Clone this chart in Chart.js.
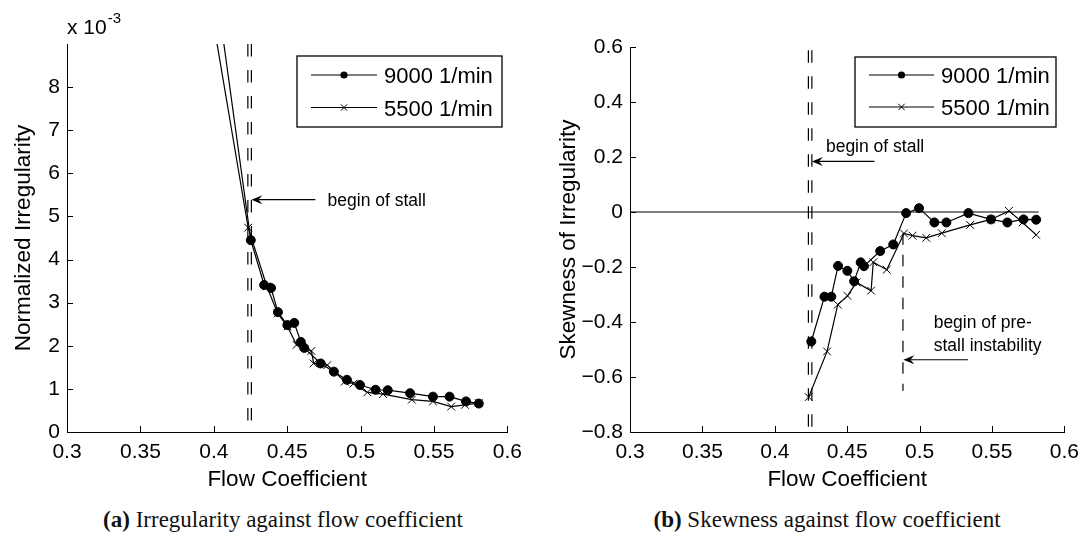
<!DOCTYPE html>
<html>
<head>
<meta charset="utf-8">
<script src="https://cdn.jsdelivr.net/npm/chart.js@4.4.1/dist/chart.umd.min.js"></script>
<style>
  body { margin: 0; background: #fff; }
  #wrap { position: relative; width: 1087px; height: 536px; background: #fff; overflow: hidden; }
  canvas { position: absolute; top: 0; }
  #c1 { left: 0; }
  #c2 { left: 530px; }
  .cap { position: absolute; top: 506px; width: 540px; text-align: center;
         font-family: "Liberation Serif", "Times New Roman", serif; font-size: 23px; line-height: 28px; color: #111; }
</style>
</head>
<body>
<div id="wrap">
  <canvas id="c1" width="530" height="500"></canvas>
  <canvas id="c2" width="557" height="500"></canvas>
  <div class="cap" style="left:13px"><b>(a)</b> Irregularity against flow coefficient</div>
  <div class="cap" style="left:557px"><b>(b)</b> Skewness against flow coefficient</div>
</div>
<script>
// ---- values ----
// flow coefficient of the operating points
const flow9000 = [0.4252, 0.4343, 0.4390, 0.4437, 0.4501, 0.4548, 0.4593, 0.4616, 0.4728, 0.4818,
                  0.4907, 0.4996, 0.5102, 0.5185, 0.5337, 0.5493, 0.5606, 0.5718, 0.5805];
const flow5500 = [0.4234, 0.4361, 0.4435, 0.4502, 0.4564, 0.4665, 0.4680, 0.4773, 0.4892, 0.4951,
                  0.5046, 0.5153, 0.5349, 0.5493, 0.5617, 0.5711, 0.5805];

// normalized irregularity (x 10^-3)
const irr9000 = [4.45, 3.41, 3.34, 2.78, 2.48, 2.53, 2.09, 1.95, 1.59, 1.40,
                 1.21, 1.09, 0.98, 0.97, 0.90, 0.82, 0.82, 0.71, 0.66];
const irr5500 = [4.74, 3.38, 2.75, 2.45, 2.02, 1.88, 1.59, 1.55, 1.17, 1.12,
                 0.92, 0.88, 0.75, 0.71, 0.59, 0.63, 0.67];
// the lowest flow point lies above the 9e-3 axis limit, only its line shows
const lowFlow = [0.40, 0.40];
const irrLow = [10.7, 9.45];   // 9000, 5500

// skewness of irregularity
const skew9000 = [-0.471, -0.308, -0.308, -0.196, -0.214, -0.252, -0.183, -0.197, -0.142, -0.118,
                  -0.004, 0.014, -0.038, -0.038, -0.004, -0.027, -0.038, -0.027, -0.028];
const skew5500 = [-0.673, -0.507, -0.337, -0.305, -0.256, -0.286, -0.183, -0.210, -0.078, -0.086,
                  -0.094, -0.077, -0.047, -0.027, 0.004, -0.038, -0.083];

// marker lines
const stallFlow = [0.4232, 0.4256];
const preStallFlow = 0.4885;

const flowTicks = [0.3, 0.35, 0.4, 0.45, 0.5, 0.55, 0.6];
const irrTicks = [0, 1, 2, 3, 4, 5, 6, 7, 8];
const skewTicks = [-0.8, -0.6, -0.4, -0.2, 0, 0.2, 0.4, 0.6];

const FONT = '"Liberation Sans", Arial, sans-serif';
const pts = (xs, ys) => xs.map((x, i) => ({x: x, y: ys[i]}));
const numLabel = v => (v < 0 ? '\u2212' : '') + String(+Math.abs(v).toFixed(2));

// MATLAB style ticks, pointing into the axes
const inwardTicks = {
    id: 'inwardTicks',
    afterDatasetsDraw(chart) {
        const {ctx, chartArea: a, scales: {x, y}} = chart;
        ctx.save();
        ctx.strokeStyle = '#000';
        ctx.lineWidth = 1;
        ctx.beginPath();
        x.ticks.forEach(t => {
            const px = Math.round(x.getPixelForValue(t.value)) + 0.5;
            ctx.moveTo(px, a.bottom); ctx.lineTo(px, a.bottom - 6);
        });
        y.ticks.forEach(t => {
            const py = Math.round(y.getPixelForValue(t.value)) + 0.5;
            ctx.moveTo(a.left, py); ctx.lineTo(a.left + 6, py);
        });
        ctx.stroke();
        ctx.restore();
    }
};

// boxed legend inside the axes
const boxLegend = {
    id: 'boxLegend',
    afterDraw(chart, args, o) {
        const ctx = chart.ctx;
        const [x1, y1, x2, y2] = o.box;
        ctx.save();
        ctx.strokeStyle = '#000';
        ctx.fillStyle = '#000';
        ctx.lineWidth = 1.3;
        ctx.strokeRect(x1, y1, x2 - x1, y2 - y1);
        ctx.font = o.size + 'px ' + FONT;
        ctx.textBaseline = 'middle';
        chart.data.datasets.filter(d => d.inLegend).forEach((d, i) => {
            const ry = o.rows[i];
            const mx = (o.line[0] + o.line[1]) / 2;
            ctx.lineWidth = 1.2;
            ctx.beginPath();
            ctx.moveTo(o.line[0], ry); ctx.lineTo(o.line[1], ry);
            ctx.stroke();
            ctx.lineWidth = 1;
            if (d.pointStyle === 'circle') {
                ctx.beginPath(); ctx.arc(mx, ry, 3.6, 0, Math.PI * 2); ctx.fill();
            } else {
                ctx.beginPath();
                ctx.moveTo(mx - 3.2, ry - 3.2); ctx.lineTo(mx + 3.2, ry + 3.2);
                ctx.moveTo(mx - 3.2, ry + 3.2); ctx.lineTo(mx + 3.2, ry - 3.2);
                ctx.stroke();
            }
            ctx.fillText(d.label, o.textX, ry + 2);
        });
        ctx.restore();
    }
};

// arrows and notes, placed in data coordinates
const notes = {
    id: 'notes',
    afterDatasetsDraw(chart, args, o) {
        const {ctx, scales: {x, y}} = chart;
        ctx.save();
        ctx.fillStyle = '#000';
        ctx.strokeStyle = '#000';
        ctx.lineWidth = 1.1;
        (o.arrows || []).forEach(a => {
            const tx = x.getPixelForValue(a.tip[0]), ty = y.getPixelForValue(a.tip[1]);
            const fx = x.getPixelForValue(a.tail[0]), fy = y.getPixelForValue(a.tail[1]);
            const len = Math.hypot(fx - tx, fy - ty);
            const ux = (fx - tx) / len, uy = (fy - ty) / len;
            const L = 11, W = 4.5, N = 7;
            ctx.beginPath();
            ctx.moveTo(tx + ux * N, ty + uy * N); ctx.lineTo(fx, fy);
            ctx.stroke();
            ctx.beginPath();
            ctx.moveTo(tx, ty);
            ctx.lineTo(tx + ux * L - uy * W, ty + uy * L + ux * W);
            ctx.lineTo(tx + ux * N, ty + uy * N);
            ctx.lineTo(tx + ux * L + uy * W, ty + uy * L - ux * W);
            ctx.closePath();
            ctx.fill();
        });
        ctx.font = o.size + 'px ' + FONT;
        ctx.textBaseline = 'middle';
        ctx.textAlign = 'left';
        (o.texts || []).forEach(t => {
            ctx.fillText(t.text, x.getPixelForValue(t.at[0]), y.getPixelForValue(t.at[1]));
        });
        if (o.exponent) {
            const a = chart.chartArea;
            ctx.textBaseline = 'alphabetic';
            ctx.font = '21px ' + FONT;
            ctx.fillText('x 10', a.left, a.top - 10);
            const w = ctx.measureText('x 10').width;
            ctx.font = '15px ' + FONT;
            ctx.fillText(o.exponent, a.left + w + 1, a.top - 21);
        }
        ctx.restore();
    }
};

function lineSet(label, data, style, radius) {
    return {
        label: label, data: data, inLegend: true,
        borderColor: '#000', backgroundColor: '#000', borderWidth: 1.2,
        pointStyle: style, pointRadius: radius,
        pointBackgroundColor: '#000', pointBorderColor: '#000', pointBorderWidth: 1,
        tension: 0
    };
}

function dashSet(x, y0, y1, dash) {
    return {
        label: 'marker', data: [{x: x, y: y0}, {x: x, y: y1}],
        borderColor: '#000', borderWidth: 1.2, borderDash: dash, pointRadius: 0
    };
}

function scales(yMin, yMax, yTicks, yTitle, yWidth, yTitlePad) {
    return {
        x: {
            type: 'linear', min: 0.3, max: 0.6,
            afterBuildTicks: s => { s.ticks = flowTicks.map(v => ({value: v})); },
            afterFit: s => { s.height = 68; },
            grid: {display: false, drawTicks: false},
            border: {color: '#000', width: 1},
            ticks: {color: '#000', font: {family: FONT, size: 21}, padding: 8,
                    maxRotation: 0, autoSkip: false, callback: v => numLabel(v)},
            title: {display: true, text: 'Flow Coefficient', color: '#000',
                    font: {family: FONT, size: 22.5}, padding: {top: 0, bottom: 6.5}}
        },
        y: {
            type: 'linear', min: yMin, max: yMax,
            afterBuildTicks: s => { s.ticks = yTicks.map(v => ({value: v})); },
            afterFit: s => { s.width = yWidth; },
            grid: {display: false, drawTicks: false},
            border: {color: '#000', width: 1},
            ticks: {color: '#000', font: {family: FONT, size: 21}, padding: 7,
                    autoSkip: false, callback: v => numLabel(v)},
            title: {display: true, text: yTitle, color: '#000',
                    font: {family: FONT, size: 22.5}, padding: {top: yTitlePad, bottom: 0}}
        }
    };
}

// (a) irregularity
new Chart(document.getElementById('c1'), {
    type: 'line',
    data: {
        datasets: [
            lineSet('9000 1/min', [{x: lowFlow[0], y: irrLow[0]}].concat(pts(flow9000, irr9000)), 'circle', 4.5),
            lineSet('5500 1/min', [{x: lowFlow[1], y: irrLow[1]}].concat(pts(flow5500, irr5500)), 'crossRot', 5.5),
            dashSet(stallFlow[0], 9, 0, [12.5, 13.5]),
            dashSet(stallFlow[1], 9, 0, [12.5, 13.5])
        ]
    },
    options: {
        responsive: false,
        animation: false,
        devicePixelRatio: 1,
        layout: {padding: {top: 44, right: 19, left: 0, bottom: 0}},
        plugins: {
            legend: {display: false},
            tooltip: {enabled: false},
            boxLegend: {box: [297, 56, 502, 127], line: [311, 377], rows: [75, 107.5], textX: 384, size: 22},
            notes: {
                size: 17.5,
                exponent: '-3',
                arrows: [{tip: [0.4256, 5.39], tail: [0.4692, 5.39]}],
                texts: [{text: 'begin of stall', at: [0.4775, 5.36]}]
            }
        },
        scales: scales(0, 9, irrTicks, 'Normalized Irregularity', 67, 10.5)
    },
    plugins: [inwardTicks, boxLegend, notes]
});

// (b) skewness
new Chart(document.getElementById('c2'), {
    type: 'line',
    data: {
        datasets: [
            lineSet('9000 1/min', pts(flow9000, skew9000), 'circle', 4.5),
            lineSet('5500 1/min', pts(flow5500, skew5500), 'crossRot', 5.5),
            {label: 'zero', data: [{x: 0.3, y: 0}, {x: 0.5822, y: 0}], borderColor: '#000', borderWidth: 1.1, pointRadius: 0},
            dashSet(stallFlow[0], 0.588, -0.8, [12.5, 13.5]),
            dashSet(stallFlow[1], 0.588, -0.8, [12.5, 13.5]),
            dashSet(preStallFlow, -0.077, -0.65, [11.5, 10])
        ]
    },
    options: {
        responsive: false,
        animation: false,
        devicePixelRatio: 1,
        layout: {padding: {top: 47, right: 21, left: 0, bottom: 0}},
        plugins: {
            legend: {display: false},
            tooltip: {enabled: false},
            boxLegend: {box: [325, 57, 526, 127], line: [339, 404], rows: [75, 107], textX: 411, size: 22},
            notes: {
                size: 17.5,
                arrows: [
                    {tip: [0.4256, 0.184], tail: [0.4688, 0.184]},
                    {tip: [0.4888, -0.537], tail: [0.5334, -0.537]}
                ],
                texts: [
                    {text: 'begin of stall', at: [0.4353, 0.236]},
                    {text: 'begin of pre-', at: [0.5097, -0.406]},
                    {text: 'stall instability', at: [0.5097, -0.487]}
                ]
            }
        },
        scales: scales(-0.8, 0.6, skewTicks, 'Skewness of Irregularity', 100, 25.5)
    },
    plugins: [inwardTicks, boxLegend, notes]
});
</script>
</body>
</html>
